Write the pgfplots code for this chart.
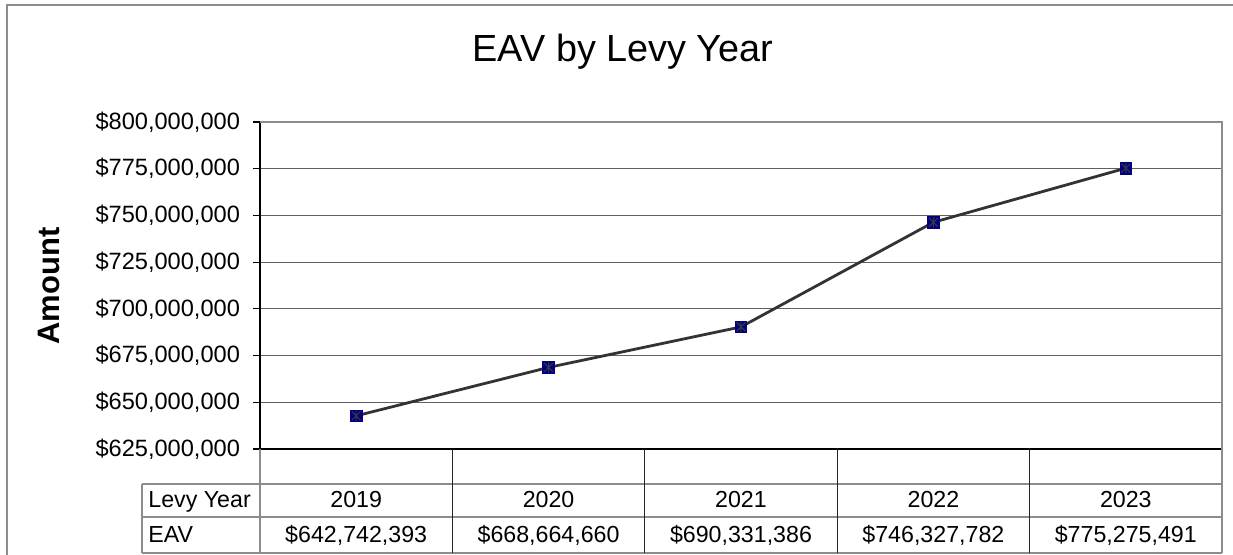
\documentclass[border=0pt]{standalone}
\usepackage{pgfplots}
\pgfplotsset{compat=1.18}
\usepackage{fontspec}
\setmainfont{Liberation Sans}
\definecolor{navy}{HTML}{000080}
\definecolor{markgray}{HTML}{3A3A3A}
\definecolor{linegray}{HTML}{333333}
\definecolor{gridgray}{HTML}{606060}
\definecolor{framegray}{HTML}{8C8C8C}
\pgfdeclareplotmark{sqstar}{%
  \pgfpathrectangle{\pgfpoint{-\pgfplotmarksize}{-\pgfplotmarksize}}{\pgfpoint{2\pgfplotmarksize}{2\pgfplotmarksize}}%
  \pgfsetfillcolor{navy}\pgfsetstrokecolor{navy}\pgfsetlinewidth{0.4pt}%
  \pgfusepathqfillstroke
  \pgfsetstrokecolor{markgray}\pgfsetlinewidth{0.5pt}%
  \pgfpathmoveto{\pgfpoint{-0.75\pgfplotmarksize}{-0.75\pgfplotmarksize}}%
  \pgfpathlineto{\pgfpoint{0.75\pgfplotmarksize}{0.75\pgfplotmarksize}}%
  \pgfpathmoveto{\pgfpoint{-0.75\pgfplotmarksize}{0.75\pgfplotmarksize}}%
  \pgfpathlineto{\pgfpoint{0.75\pgfplotmarksize}{-0.75\pgfplotmarksize}}%
  \pgfpathmoveto{\pgfpoint{0pt}{-0.85\pgfplotmarksize}}%
  \pgfpathlineto{\pgfpoint{0pt}{0.85\pgfplotmarksize}}%
  \pgfusepathqstroke
}
\begin{document}
\begin{tikzpicture}[x=0.5pt,y=0.5pt]
\path[use as bounding box] (0,0) rectangle (1233,555);
\fill[white] (0,0) rectangle (1233,555);
% outer frame
\draw[framegray, line width=0.75pt] (7,0) -- (7,550) -- (1233,550);
% title
\node[anchor=base, font=\fontsize{18.9pt}{22pt}\selectfont] at (623,493) {EAV by Levy Year};
% y label
\node[rotate=90, font=\fontsize{15.5pt}{18pt}\selectfont\bfseries] at (49,269) {Amount};
\begin{axis}[
  at={(130pt,53pt)}, anchor=south west,
  scale only axis, width=481pt, height=163.5pt,
  xmin=-0.5, xmax=4.5,
  ymin=625000000, ymax=800000000,
  scaled y ticks=false,
  axis x line*=bottom, axis y line*=left,
  axis line style={black, line width=0.75pt, -},
  xtick=\empty,
  ytick={625000000,650000000,675000000,700000000,725000000,750000000,775000000,800000000},
  yticklabels={{\$625,000,000},{\$650,000,000},{\$675,000,000},{\$700,000,000},{\$725,000,000},{\$750,000,000},{\$775,000,000},{\$800,000,000}},
  /pgf/number format/assume math mode=true,
  yticklabel style={font=\fontsize{11.8pt}{13pt}\selectfont, xshift=-3pt},
  tick align=outside, major tick length=3.5pt,
  tick style={black, line width=0.6pt},
  ymajorgrids, grid style={gridgray, line width=0.6pt},
  clip=false,
]
\draw[framegray, line width=0.75pt] (rel axis cs:0,1) -- (rel axis cs:1,1) -- (rel axis cs:1,0);
\addplot[linegray, line width=1.4pt, mark=sqstar, mark size=2.9pt, mark options={solid}]
  coordinates {(0,642742393) (1,668664660) (2,690331386) (3,746327782) (4,775275491)};
\end{axis}
% data table
\begin{scope}
\draw[framegray, line width=0.6pt] (142,71) -- (1222,71);
\draw[framegray, line width=0.6pt] (142,38) -- (1222,38);
\draw[framegray, line width=0.6pt] (142,2) -- (1222,2);
\draw[framegray, line width=0.6pt] (142,71) -- (142,2);
\draw[framegray, line width=0.6pt] (260,106) -- (260,2);
\draw[framegray, line width=0.75pt] (1222,106) -- (1222,2);
\foreach \xx in {452.4,644.8,837.2,1029.6} {\draw[black!85, line width=0.6pt] (\xx,106) -- (\xx,2);}
\end{scope}
\begin{scope}[every node/.style={anchor=base, font=\fontsize{11.6pt}{13pt}\selectfont, inner sep=0pt}]
\node[anchor=base west] at (148,47) {Levy Year};
\node[anchor=base west] at (148,12) {EAV};
\node at (356.2,47) {2019};
\node at (548.6,47) {2020};
\node at (741.0,47) {2021};
\node at (933.4,47) {2022};
\node at (1125.8,47) {2023};
\node at (356.2,12) {\$642,742,393};
\node at (548.6,12) {\$668,664,660};
\node at (741.0,12) {\$690,331,386};
\node at (933.4,12) {\$746,327,782};
\node at (1125.8,12) {\$775,275,491};
\end{scope}
\end{tikzpicture}
\end{document}
